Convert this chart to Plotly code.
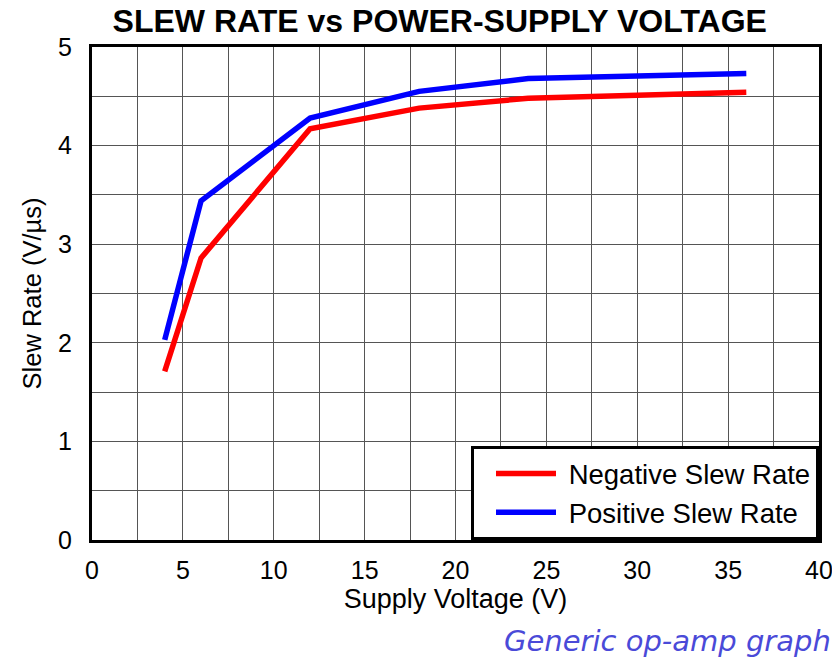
import plotly.graph_objects as go

supply_v = [4, 6, 12, 18, 24, 36]
neg_slew = [1.71, 2.86, 4.17, 4.38, 4.48, 4.54]
pos_slew = [2.03, 3.44, 4.28, 4.55, 4.68, 4.73]

fig = go.Figure()
fig.add_trace(go.Scatter(x=supply_v, y=neg_slew, mode="lines", name="\u00a0Negative Slew Rate",
                         line=dict(color="#ff0000", width=5.5)))
fig.add_trace(go.Scatter(x=supply_v, y=pos_slew, mode="lines", name="\u00a0Positive Slew Rate",
                         line=dict(color="#0000ff", width=5.5)))

FONT = "Arial, Liberation Sans, sans-serif"
tick_font = dict(family=FONT, size=25, color="black")
fig.update_layout(
    width=840, height=666,
    margin=dict(l=84, r=29, t=39, b=134),
    paper_bgcolor="white", plot_bgcolor="white",
    title=dict(text="<b>SLEW RATE vs POWER-SUPPLY VOLTAGE</b>", x=0.514, xanchor="center",
               y=0.981, yanchor="middle",
               font=dict(family=FONT, size=32, color="black")),
    xaxis=dict(range=[0, 40], tickvals=[0, 5, 10, 15, 20, 25, 30, 35, 40],
               showgrid=False, zeroline=False,
               showline=True, linecolor="black", linewidth=3, mirror=True,
               ticks="", tickfont=tick_font, ticklabelstandoff=6,
               minor=dict(dtick=2.5, showgrid=True, gridcolor="#555555", gridwidth=1),
               title=dict(text="Supply Voltage (V)", font=dict(family=FONT, size=27, color="black"),
                          standoff=6)),
    yaxis=dict(range=[0, 5], tickvals=[0, 1, 2, 3, 4, 5],
               showgrid=False, zeroline=False,
               showline=True, linecolor="black", linewidth=3, mirror=True,
               ticks="", tickfont=tick_font, ticklabelstandoff=12,
               minor=dict(dtick=0.5, showgrid=True, gridcolor="#555555", gridwidth=1),
               title=dict(text="Slew Rate (V/µs)", font=dict(family=FONT, size=25.5, color="black"),
                          standoff=10)),
    legend=dict(x=1, y=0, xanchor="right", yanchor="bottom",
                bgcolor="white", bordercolor="black", borderwidth=3,
                font=dict(family=FONT, size=27.5, color="black"),
                itemwidth=60, indentation=17, tracegroupgap=0),
    annotations=[dict(text="<i>Generic op-amp graph</i>", xref="paper", yref="paper",
                      x=1.019, y=-0.205, xanchor="right", yanchor="middle", showarrow=False,
                      font=dict(family="DejaVu Sans, sans-serif", size=29, color="#4a4ad8"))],
)

fig.write_html("out.html")
